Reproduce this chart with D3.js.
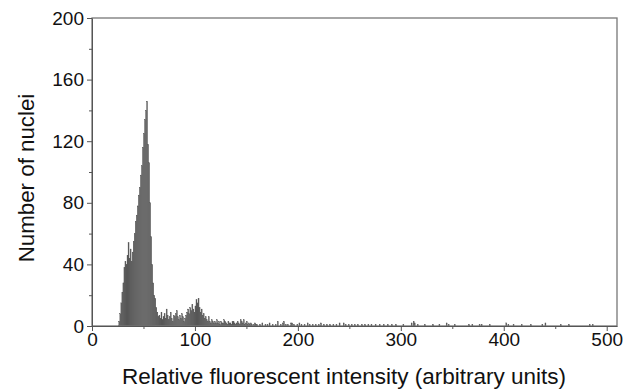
<!DOCTYPE html>
<html>
<head>
<meta charset="utf-8">
<script src="https://cdn.jsdelivr.net/npm/d3@7"></script>
<style>
  body { margin: 0; background: #fff; }
  svg text { font-family: "Liberation Sans", Arial, sans-serif; fill: #111; }
</style>
</head>
<body>
<div id="chart"></div>
<script>
// dense part of the histogram, 1-unit bins starting at 26
const denseStart = 26;
const denseCounts = [
  3, 8, 15, 22, 28, 38, 42, 40, 46, 54,
  44, 50, 42, 48, 55, 60, 68, 72, 78, 85,
  90, 98, 104, 116, 125, 134, 140, 146, 118, 106,
  80, 58, 40, 28, 20, 18, 12, 9, 6, 7,
  5, 9, 4, 6, 8, 5, 11, 7, 4, 6,
  9, 5, 3, 7, 6, 8, 10, 6, 4, 7,
  5, 8, 6, 3, 5, 7, 9, 11, 8, 12,
  10, 14, 11, 9, 13, 17, 15, 18, 12, 9,
  11, 7, 8, 5, 6, 4, 3, 6, 3, 2,
  4, 3, 2, 3, 2, 4, 2, 3, 1, 3,
  2, 2, 4, 3, 2, 1, 3, 2, 2, 1,
  3, 3, 2, 1, 2, 3, 2, 1, 4, 3,
  2, 4, 1, 2, 3, 1, 2, 1, 2, 1,
  0, 1, 2, 1, 1
];

// sparse tail: bin start and count
const tailBins = [163, 165, 168, 170, 172, 175, 178, 180, 183, 185, 186, 188, 190, 193, 194, 196, 199,
  201, 203, 206, 209, 211, 214, 217, 220, 222, 225, 228, 231, 234, 237, 240, 244, 246, 249,
  252, 255, 258, 262, 265, 268, 271, 275, 279, 283, 287, 291, 295, 302, 310, 312, 313, 316,
  323, 331, 337, 344, 346, 352, 366, 369, 376, 378, 386, 402, 404, 409, 417, 426, 437, 440,
  455, 463, 483, 486];
const tailCounts = [1, 2, 1, 1, 2, 1, 1, 3, 1, 2, 3, 1, 1, 2, 2, 1, 1,
  2, 1, 1, 2, 1, 1, 1, 1, 2, 1, 1, 1, 1, 1, 2, 2, 1, 1,
  1, 1, 1, 1, 1, 1, 1, 1, 1, 1, 1, 1, 1, 1, 2, 3, 2, 1,
  1, 1, 1, 2, 1, 1, 1, 1, 1, 1, 1, 2, 1, 1, 1, 1, 1, 2,
  1, 1, 1, 1];

const xTicks = [0, 100, 200, 300, 400, 500];
const xMinor = [50, 150, 250, 350, 450];
const yTicks = [0, 40, 80, 120, 160, 200];
const yMinor = [20, 60, 100, 140, 180];

const bins = denseCounts.map((c, i) => ({ x: denseStart + i, n: c }))
  .concat(tailBins.map((b, i) => ({ x: b, n: tailCounts[i] })));

const W = 633, H = 390;
const margin = {top: 18, right: 16, bottom: 64, left: 92};
const width = W - margin.left - margin.right;
const height = H - margin.top - margin.bottom;

const svg = d3.select('#chart').append('svg')
  .attr('width', W)
  .attr('height', H);

const g = svg.append('g')
  .attr('transform', 'translate(' + margin.left + ',' + margin.top + ')');

const x = d3.scaleLinear().domain([0, 510]).range([0, width]);
const y = d3.scaleLinear().domain([0, 200]).range([height, 0]);

// bars
g.selectAll('.bar')
  .data(bins.filter(d => d.n > 0))
  .enter().append('rect')
    .attr('class', 'bar')
    .attr('x', d => x(d.x))
    .attr('width', d => x(d.x + 1) - x(d.x))
    .attr('y', d => y(d.n))
    .attr('height', d => height - y(d.n))
    .attr('fill', '#585858')
    .attr('stroke', '#585858')
    .attr('stroke-width', 0.3);

// frame
g.append('rect')
  .attr('x', 0).attr('y', 0)
  .attr('width', width).attr('height', height)
  .attr('fill', 'none')
  .attr('stroke', '#777')
  .attr('stroke-width', 1.3);

const axisColor = '#555';

// minor ticks
g.append('g')
  .attr('transform', 'translate(0,' + height + ')')
  .call(d3.axisBottom(x).tickValues(xMinor).tickSize(3).tickFormat(''))
  .call(s => s.select('.domain').remove())
  .call(s => s.selectAll('line').attr('stroke', axisColor));
g.append('g')
  .call(d3.axisLeft(y).tickValues(yMinor).tickSize(3).tickFormat(''))
  .call(s => s.select('.domain').remove())
  .call(s => s.selectAll('line').attr('stroke', axisColor));

// major axes
g.append('g')
  .attr('transform', 'translate(0,' + height + ')')
  .call(d3.axisBottom(x).tickValues(xTicks).tickSize(5).tickSizeOuter(0).tickPadding(2))
  .call(s => s.select('.domain').attr('stroke', axisColor))
  .call(s => s.selectAll('line').attr('stroke', axisColor))
  .call(s => s.selectAll('text').style('font-size', '19px').attr('fill', '#111'));

g.append('g')
  .call(d3.axisLeft(y).tickValues(yTicks).tickSize(5).tickSizeOuter(0).tickPadding(3))
  .call(s => s.select('.domain').attr('stroke', axisColor))
  .call(s => s.selectAll('line').attr('stroke', axisColor))
  .call(s => s.selectAll('text').style('font-size', '19px').attr('fill', '#111'));

// axis titles
svg.append('text')
  .attr('x', 344)
  .attr('y', 384)
  .attr('text-anchor', 'middle')
  .style('font-size', '22.5px')
  .text('Relative fluorescent intensity (arbitrary units)');

svg.append('text')
  .attr('transform', 'translate(34,' + 178 + ') rotate(-90)')
  .attr('text-anchor', 'middle')
  .style('font-size', '22.3px')
  .text('Number of nuclei');
</script>
</body>
</html>
